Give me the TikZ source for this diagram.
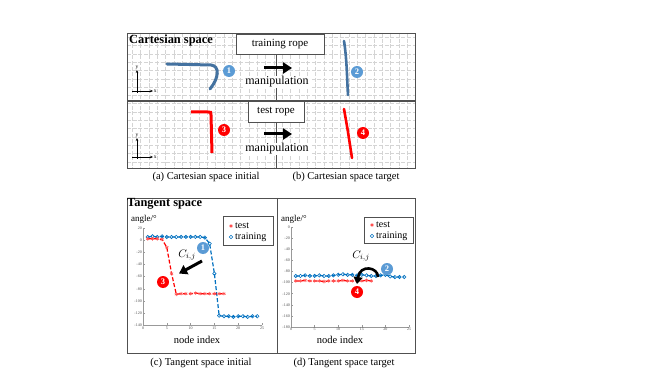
\documentclass[tikz,border=0pt]{standalone}
\usepackage{fontspec}
\setmainfont{Liberation Serif}
\usetikzlibrary{arrows.meta,plotmarks}

\definecolor{ropeblue}{RGB}{68,114,160}
\definecolor{badgeblue}{RGB}{91,155,213}
\definecolor{trainblue}{RGB}{0,112,192}
\definecolor{testred}{RGB}{255,0,0}
\definecolor{markred}{RGB}{255,80,80}
\definecolor{gridgray}{RGB}{212,212,212}
\definecolor{framegray}{RGB}{80,80,80}

\begin{document}
\begin{tikzpicture}[x=1pt, y=-1pt,
  panel/.style={draw=framegray, line width=0.9pt},
  gridline/.style={draw=gridgray, line width=0.6pt, dash pattern=on 4pt off 1.6pt},
  labelbox/.style={draw=framegray, fill=white, line width=0.8pt, inner sep=0pt,
                   minimum height=20pt, font=\fontsize{11}{13}\selectfont},
  badge/.style={circle, fill=#1, text=white, inner sep=0pt, minimum size=12pt,
                font=\fontsize{8.5}{8.5}\selectfont\bfseries},
  bigarrow/.style={line width=3pt, -{Triangle[length=9pt,width=11pt]}},
  ropeline/.style={line width=3pt, line cap=round},
  titlefont/.style={font=\fontsize{12.4}{14}\selectfont\bfseries, inner sep=0pt},
  capfont/.style={font=\fontsize{10.5}{12}\selectfont},
  manfont/.style={font=\fontsize{12}{14}\selectfont, fill=white, inner sep=1pt},
  tinyfont/.style={font=\fontsize{5.5}{6}\selectfont, inner sep=0.5pt},
  ticklabel/.style={font=\fontsize{4}{4}\selectfont, text=black!70, inner sep=1pt},
  axisline/.style={draw=black!40, line width=0.5pt},
  axisarrow/.style={line width=0.6pt, -{Stealth[length=3pt,width=2.5pt]}},
  legendbox/.style={draw=framegray, fill=white, line width=0.8pt, inner sep=0pt},
  legendfont/.style={font=\fontsize{10}{11}\selectfont, inner sep=0pt, anchor=west},
  traincurve/.style={trainblue, line width=1.2pt, dash pattern=on 4pt off 2pt,
                     mark=o, mark size=1.7pt, mark options={solid, line width=0.6pt}},
  testcurve/.style={testred, line width=1.2pt, dash pattern=on 4pt off 2pt,
                    mark=asterisk, mark size=1.8pt, mark options={solid, draw=markred, line width=0.6pt}},
  curvearrow/.style={line width=2.6pt, -{Triangle[length=7pt,width=9pt]}},
  cfont/.style={font=\fontsize{11}{12}\selectfont}
]
  % page
  \fill[white] (0,0) rectangle (660,371);
  \useasboundingbox (0,0) rectangle (660,371);

  % Cartesian space: grid and frame
  \foreach \gx in {132.4,140.73,...,414} \draw[gridline] (\gx,33) -- (\gx,168);
  \foreach \gy in {37.4,45.7,...,167} \draw[gridline] (127,\gy) -- (415,\gy);
  \draw[panel] (127,33) rectangle (415,168);
  \draw[panel, line width=1.5pt] (127,101) -- (415,101);
  \draw[panel] (276,54) -- (276,101);
  \draw[panel] (276,122) -- (276,168);

  \node[titlefont, anchor=west] (cartTitle) at (129,41) {Cartesian space};
  \node[labelbox, minimum width=88pt] (trainBox) at (280,44) {training rope};
  \node[labelbox, minimum width=56pt, minimum height=21pt] (testBox) at (276,111.5) {test rope};

  % small x-y frames
  \draw[axisarrow] (137,93) -- (137,70) node[tinyfont, above] (yA) {y};
  \draw[axisarrow] (132,91) -- (153,91) node[tinyfont, right] (xA) {x};
  \draw[axisarrow] (137,159) -- (137,138) node[tinyfont, above] (yB) {y};
  \draw[axisarrow] (132,157) -- (153,157) node[tinyfont, right] (xB) {x};

  % ropes
  \draw[ropeblue, ropeline] (167,64) -- (211,65) .. controls (220,66) and (219,78) .. (210,89);
  \draw[ropeblue, ropeline, line width=2.6pt] (344,41) .. controls (347,60) and (347,80) .. (348,95);
  \draw[testred, ropeline, line cap=butt] (191,112) -- (208,112) .. controls (211,112) .. (211,115) -- (212,153);
  \draw[testred, ropeline, line width=2.6pt] (344,109) -- (348,132) -- (352,158);

  \node[badge=badgeblue] (ropeOne) at (229,71) {1};
  \node[badge=badgeblue] (ropeTwo) at (357,72) {2};
  \node[badge=testred] (ropeThree) at (224,130) {3};
  \node[badge=testred] (ropeFour) at (363,133) {4};

  % manipulation arrows
  \node[manfont] (manA) at (277,82) {manipulation};
  \node[manfont] (manB) at (277,149) {manipulation};
  \coordinate (manAs) at (264,68);
  \coordinate (manAe) at (292,68);
  \coordinate (manBs) at (264,134);
  \coordinate (manBe) at (292,134);
  \draw[bigarrow] (manAs) -- (manAe);
  \draw[bigarrow] (manBs) -- (manBe);

  \node[capfont] (capA) at (206,177) {(a) Cartesian space initial};
  \node[capfont] (capB) at (346,177) {(b) Cartesian space target};

  % Tangent space frame
  \draw[panel] (127,198) rectangle (415,353);
  \draw[panel] (277,198) -- (277,353);
  \node[titlefont, anchor=west] (tanTitle) at (127,204) {Tangent space};

  % plot (c)
  \begin{scope}[shift={(143,240)}, x=4.76pt, y=0.61pt]
    \draw[axisline] (0,20) -- (0,-140) -- (25,-140);
    \foreach \v [count=\i] in {20,0,-20,-40,-60,-80,-100,-120,-140} {
      \draw[axisline] (0,\v) -- (0.35,\v);
      \node[ticklabel, anchor=east] (cy\i) at (0,\v) {\v};
    }
    \foreach \u [count=\i] in {0,5,10,15,20,25} {
      \draw[axisline] (\u,-140) -- (\u,-136);
      \node[ticklabel, anchor=north] (cx\i) at (\u,-140) {\u};
    }
    \draw[traincurve] plot coordinates {(1,5) (2,6) (3,5) (4,6) (5,5) (6,5) (7,5) (8,5)
      (9,5) (10,5) (11,5) (12,5) (13,4) (14,-6) (15,-55) (16,-124) (17,-125) (18,-125)
      (19,-126) (20,-125) (21,-125) (22,-126) (23,-125) (24,-125)};
    \draw[testcurve] plot coordinates {(1,2) (2,2) (3,2) (4,1) (5,-12) (6,-55) (7,-89)
      (8,-88) (9,-88) (10,-88) (11,-87) (12,-88) (13,-88) (14,-88) (15,-88) (16,-88) (17,-88)};
  \end{scope}
  \node[font=\fontsize{9}{10}\selectfont, anchor=west, inner sep=0pt] (angC) at (131,219) {angle/°};
  \node[capfont] (idxC) at (197,340) {node index};
  \node[legendbox, minimum width=50pt, minimum height=29pt] (legC) at (248,230.5) {};
  \path[testcurve] plot coordinates {(231,226)};
  \path[traincurve] plot coordinates {(231,237)};
  \node[legendfont] (legCtest) at (235,226) {test};
  \node[legendfont] (legCtrain) at (235,237) {training};
  \coordinate (cijCs) at (202,261);
  \coordinate (cijCe) at (179,273.5);
  \draw[bigarrow, -{Triangle[length=8pt,width=10pt]}] (cijCs) -- (cijCe);
  \node[cfont] (cijC) at (187,255) {$C_{i,j}$};
  \node[badge=badgeblue] (tanOne) at (203,248) {1};
  \node[badge=testred] (tanThree) at (163,282) {3};
  \node[capfont] (capC) at (201,363) {(c) Tangent space initial};

  % plot (d)
  \begin{scope}[shift={(291,227)}, x=4.72pt, y=0.556pt]
    \draw[axisline] (0,0) -- (0,-180) -- (25,-180);
    \foreach \v [count=\i] in {0,-20,-40,-60,-80,-100,-120,-140,-160,-180} {
      \draw[axisline] (0,\v) -- (0.35,\v);
      \node[ticklabel, anchor=east] (dy\i) at (0,\v) {\v};
    }
    \foreach \u [count=\i] in {0,5,10,15,20,25} {
      \draw[axisline] (\u,-180) -- (\u,-176);
      \node[ticklabel, anchor=north] (dx\i) at (\u,-180) {\u};
    }
    \draw[traincurve] plot coordinates {(1,-88) (2,-88) (3,-87) (4,-88) (5,-88) (6,-87)
      (7,-88) (8,-88) (9,-87) (10,-86) (11,-85) (12,-86) (13,-86) (14,-87) (15,-86)
      (16,-87) (17,-88) (18,-88) (19,-87) (20,-86) (21,-89) (22,-90) (23,-90) (24,-90)};
    \draw[testcurve] plot coordinates {(1,-97) (2,-97) (3,-96) (4,-97) (5,-97) (6,-97)
      (7,-98) (8,-97) (9,-97) (10,-97) (11,-96) (12,-97) (13,-97) (14,-97) (15,-97)
      (16,-96) (17,-97)};
  \end{scope}
  \node[font=\fontsize{9}{10}\selectfont, anchor=west, inner sep=0pt] (angD) at (281,219) {angle/°};
  \node[capfont] (idxD) at (340,340) {node index};
  \node[legendbox, minimum width=49pt, minimum height=26pt] (legD) at (388.5,230) {};
  \path[testcurve] plot coordinates {(372,225)};
  \path[traincurve] plot coordinates {(372,236)};
  \node[legendfont] (legDtest) at (376,225) {test};
  \node[legendfont] (legDtrain) at (376,236) {training};
  \node[badge=badgeblue] (tanTwo) at (387,269) {2};
  \node[badge=testred] (tanFour) at (357,292) {4};
  \coordinate (cijDs) at (378,277);
  \coordinate (cijDe) at (357,284);
  \draw[curvearrow] (cijDs) .. controls (378,267) and (360,264) .. (cijDe);
  \node[cfont] (cijD) at (361,256) {$C_{i,j}$};
  \node[capfont] (capD) at (344,363) {(d) Tangent space target};
\end{tikzpicture}
\end{document}
